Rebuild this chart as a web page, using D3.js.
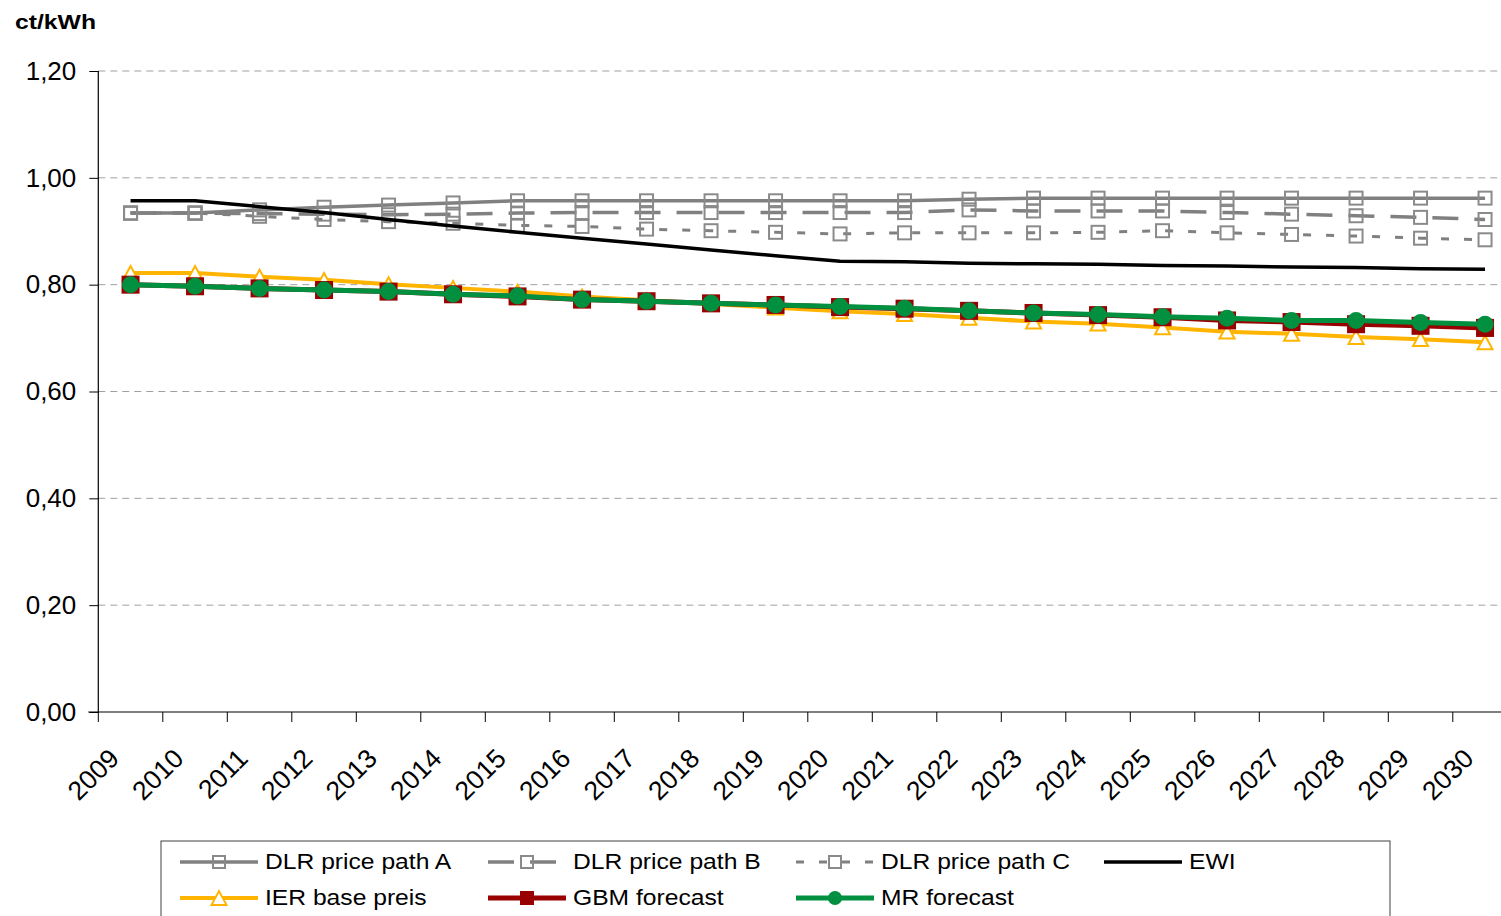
<!DOCTYPE html>
<html>
<head>
<meta charset="utf-8">
<script src="https://cdn.jsdelivr.net/npm/d3@7"></script>
<style>
  html, body { margin: 0; padding: 0; background: #fff; }
  svg { display: block; font-family: "Liberation Sans", Arial, sans-serif; }
</style>
</head>
<body>
<svg id="chart" width="1501" height="916"></svg>
<script>
// Electricity price paths, ct/kWh, 2009-2030
const years = ["2009","2010","2011","2012","2013","2014","2015","2016","2017","2018","2019",
               "2020","2021","2022","2023","2024","2025","2026","2027","2028","2029","2030"];
const yTicks = [0, 0.2, 0.4, 0.6, 0.8, 1.0, 1.2];

const dlrA = [0.934,0.934,0.940,0.945,0.949,0.953,0.957,0.957,0.957,0.957,0.957,0.957,0.957,0.960,0.962,0.962,0.962,0.962,0.962,0.962,0.962,0.962];
const dlrB = [0.934,0.934,0.933,0.932,0.931,0.932,0.934,0.935,0.935,0.935,0.935,0.935,0.935,0.940,0.938,0.938,0.938,0.935,0.932,0.929,0.926,0.922];
const dlrC = [0.934,0.934,0.928,0.922,0.918,0.915,0.911,0.909,0.904,0.901,0.898,0.895,0.897,0.897,0.897,0.898,0.901,0.897,0.894,0.891,0.887,0.884];
const ewi  = [0.957,0.957,0.946,0.935,0.922,0.910,0.898,0.887,0.876,0.865,0.854,0.844,0.843,0.840,0.839,0.838,0.836,0.835,0.833,0.832,0.830,0.829];
const ier  = [0.822,0.822,0.815,0.809,0.801,0.794,0.787,0.778,0.771,0.764,0.757,0.750,0.745,0.738,0.731,0.727,0.720,0.712,0.708,0.702,0.698,0.692];
const gbm  = [0.800,0.797,0.793,0.790,0.787,0.782,0.778,0.772,0.769,0.765,0.762,0.758,0.755,0.751,0.747,0.743,0.739,0.733,0.730,0.726,0.723,0.719];
const mr   = [0.800,0.797,0.793,0.790,0.787,0.782,0.779,0.772,0.769,0.765,0.762,0.759,0.756,0.751,0.747,0.744,0.740,0.737,0.733,0.733,0.729,0.726];

const seriesNames = ["DLR price path A","DLR price path B","DLR price path C","EWI","IER base preis","GBM forecast","MR forecast"];

const series = [
  { name: seriesNames[0], values: dlrA, color: "#808080", width: 3.5, dash: null,    marker: "square",   mColor: "#8a8a8a", mSize: 13, lmSize: 12 },
  { name: seriesNames[1], values: dlrB, color: "#808080", width: 3.5, dash: "26,16", marker: "square",   mColor: "#8a8a8a", mSize: 13, lmSize: 12 },
  { name: seriesNames[2], values: dlrC, color: "#808080", width: 3,   dash: "8,15",  marker: "square",   mColor: "#8a8a8a", mSize: 13, lmSize: 12 },
  { name: seriesNames[3], values: ewi,  color: "#000000", width: 3.5, dash: null,    marker: null },
  { name: seriesNames[4], values: ier,  color: "#FFB400", width: 4,   dash: null,    marker: "triangle", mColor: "#FFB400", mSize: 15, lmSize: 15 },
  { name: seriesNames[5], values: gbm,  color: "#990000", width: 5,   dash: null,    marker: "fsquare",  mColor: "#990000", mSize: 18, lmSize: 14 },
  { name: seriesNames[6], values: mr,   color: "#009040", width: 5,   dash: null,    marker: "circle",   mColor: "#009040", mSize: 17, lmSize: 14 }
];

const svg = d3.select("#chart");
svg.append("rect").attr("width", 1501).attr("height", 916).attr("fill", "#fff");

const plotLeft = 98.3, plotTop = 71, plotBottom = 712;
const band = 64.5;
const x = d3.scaleBand().domain(years).range([plotLeft, plotLeft + band * years.length]).paddingInner(0).paddingOuter(0);
const y = d3.scaleLinear().domain([0, 1.2]).range([plotBottom, plotTop]);
const cx = d => x(d) + x.bandwidth() / 2;

// gridlines
svg.append("g").selectAll("line")
  .data(yTicks.filter(t => t > 0))
  .join("line")
  .attr("x1", plotLeft).attr("x2", x.range()[1])
  .attr("y1", d => y(d)).attr("y2", d => y(d))
  .attr("stroke", "#a0a0a0").attr("stroke-width", 1).attr("stroke-dasharray", "7,5");

// y axis
const yAxis = d3.axisLeft(y).tickValues(yTicks)
  .tickFormat(d => d.toFixed(2).replace(".", ","))
  .tickSize(9).tickPadding(13);
const gy = svg.append("g").attr("transform", `translate(${plotLeft},0)`).call(yAxis);
gy.select(".domain").attr("stroke", "#000").attr("stroke-width", 1.2).attr("d", `M0,${plotTop}V${plotBottom}`);
gy.selectAll(".tick line").attr("stroke", "#000");
gy.selectAll(".tick text").attr("font-size", 26).attr("fill", "#000")
  .attr("font-family", "Liberation Sans, Arial, sans-serif");

// x axis: line, boundary ticks, rotated labels
const gx = svg.append("g");
gx.append("line").attr("x1", plotLeft - 10).attr("x2", x.range()[1])
  .attr("y1", plotBottom).attr("y2", plotBottom).attr("stroke", "#000").attr("stroke-width", 1.2);
gx.selectAll("line.tk").data(years.map(d => x(d)).concat([x.range()[1]]))
  .join("line").attr("class", "tk")
  .attr("x1", d => d).attr("x2", d => d)
  .attr("y1", plotBottom).attr("y2", plotBottom + 10)
  .attr("stroke", "#000").attr("stroke-width", 1);
gx.selectAll("text").data(years).join("text")
  .attr("transform", d => `translate(${cx(d) - 10},760) rotate(-45)`)
  .attr("text-anchor", "end")
  .attr("font-size", 26.5).attr("fill", "#000")
  .text(d => d);

// unit title
const title = svg.append("text").attr("x", 15).attr("y", 29)
  .attr("font-size", 20.5).attr("font-weight", "bold").attr("fill", "#000").text("ct/kWh");
title.attr("textLength", 81).attr("lengthAdjust", "spacingAndGlyphs");

// marker drawing
function drawMarker(g, type, color, size) {
  const h = size / 2;
  if (type === "square") {
    g.append("rect").attr("x", -h).attr("y", -h).attr("width", size).attr("height", size)
      .attr("fill", "none").attr("stroke", color).attr("stroke-width", 2);
  } else if (type === "fsquare") {
    g.append("rect").attr("x", -h).attr("y", -h).attr("width", size).attr("height", size)
      .attr("fill", color).attr("stroke", "none");
  } else if (type === "circle") {
    g.append("circle").attr("r", h).attr("fill", color);
  } else if (type === "triangle") {
    const th = size * 0.85;
    g.append("path").attr("d", `M0,${-th / 2 - 0.5}L${h},${th / 2 + 0.5}L${-h},${th / 2 + 0.5}Z`)
      .attr("fill", "#fff").attr("stroke", color).attr("stroke-width", 2).attr("stroke-linejoin", "miter");
  }
}

// series
const line = d3.line().x((d, i) => cx(years[i])).y(d => y(d));
series.forEach(s => {
  const g = svg.append("g");
  g.append("path").attr("d", line(s.values))
    .attr("fill", "none").attr("stroke", s.color).attr("stroke-width", s.width)
    .attr("stroke-dasharray", s.dash).attr("stroke-linejoin", "round");
  if (s.marker) {
    s.values.forEach((v, i) => {
      const m = g.append("g").attr("transform", `translate(${cx(years[i])},${y(v)})`);
      drawMarker(m, s.marker, s.mColor, s.mSize);
    });
  }
});

// legend
const legend = svg.append("g");
legend.append("rect").attr("x", 161).attr("y", 841).attr("width", 1229).attr("height", 100)
  .attr("fill", "#fff").attr("stroke", "#404040").attr("stroke-width", 1);
const colX = [180, 488, 796, 1104];
const rowY = [862, 898];
series.forEach((s, i) => {
  const col = i < 4 ? i : i - 4;
  const row = i < 4 ? 0 : 1;
  const lx = colX[col], ly = rowY[row];
  const g = legend.append("g");
  g.append("line").attr("x1", lx).attr("x2", lx + 78).attr("y1", ly).attr("y2", ly)
    .attr("stroke", s.color).attr("stroke-width", s.width)
    .attr("stroke-dasharray", s.dash);
  if (s.marker) {
    const m = g.append("g").attr("transform", `translate(${lx + 39},${ly})`);
    drawMarker(m, s.marker, s.mColor, s.lmSize);
  }
  const t = g.append("text").attr("x", lx + 85).attr("y", ly + 5)
    .attr("dy", "0.1em")
    .attr("font-size", 22).attr("fill", "#000").text(s.name);
  const len = t.node().getComputedTextLength();
  t.attr("textLength", len * 1.12).attr("lengthAdjust", "spacingAndGlyphs");
});
</script>
</body>
</html>
